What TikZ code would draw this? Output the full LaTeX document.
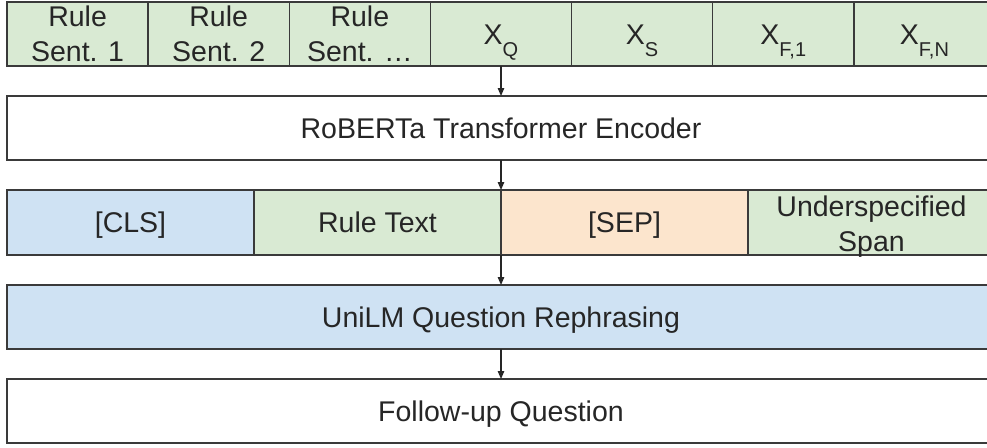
\documentclass[tikz,border=0pt]{standalone}
\usepackage{fontspec}
\setmainfont{Liberation Sans}
\usetikzlibrary{arrows.meta}
\definecolor{cellgreen}{HTML}{D9EAD3}
\definecolor{cellblue}{HTML}{CFE2F3}
\definecolor{cellorange}{HTML}{FCE5CD}
\definecolor{edge}{HTML}{3A3A3A}
\newcommand{\tok}[1]{X\raisebox{-12pt}{\fontsize{20}{20}\selectfont #1}}
\begin{document}
\begin{tikzpicture}[x=1pt,y=-1pt,
  cell/.style={draw=edge,line width=1.5pt,rectangle,inner sep=0pt,outer sep=0pt,
    align=center,font=\fontsize{28.5}{35}\selectfont,text=black!85},
  oneline/.style={text height=20pt,text depth=0pt},
  toprow/.style={cell,fill=cellgreen,minimum width=141.14pt,minimum height=64pt},
  midrow/.style={cell,minimum width=247pt,minimum height=65pt},
  wide/.style={cell,minimum width=988pt,minimum height=64pt,oneline},
  arr/.style={draw=black!85,line width=1.2pt,-{Triangle[length=8pt,width=6.5pt]}}]
\useasboundingbox (0,0) rectangle (987,447);
\clip (0,0) rectangle (987,447);

% input segments
\node[toprow] (r1) at (77.57,34) {Rule\\Sent. 1};
\node[toprow] (r2) at (218.71,34) {Rule\\Sent. 2};
\node[toprow] (r3) at (359.85,34) {Rule\\Sent. \dots};
\node[toprow,oneline] (xq) at (501,34) {\tok{Q}};
\node[toprow,oneline] (xs) at (642.14,34) {\tok{S}};
\node[toprow,oneline] (xf1) at (783.28,34) {\tok{F,1}};
\node[toprow,oneline] (xfn) at (924.42,34) {\tok{F,N}};

% encoder
\node[wide,fill=white] (enc) at (501,128) {RoBERTa Transformer Encoder};

% rephrasing input
\node[midrow,oneline,fill=cellblue] (cls) at (130.5,222.5) {[CLS]};
\node[midrow,oneline,fill=cellgreen] (rtext) at (377.5,222.5) {Rule Text};
\node[midrow,oneline,fill=cellorange] (sep) at (624.5,222.5) {[SEP]};
\node[midrow,fill=cellgreen] (span) at (871.5,222.5) {};
\node[align=center,font=\fontsize{28.5}{35}\selectfont,text=black!85,inner sep=0pt]
  (spantext) at ([yshift=-4pt]span.center) {Underspecified\\Span};

% decoder and output
\node[wide,fill=cellblue] (unilm) at (501,317) {UniLM Question Rephrasing};
\node[wide,fill=white] (follow) at (501,411) {Follow-up Question};

% connectors
\draw[arr] (xq.south) -- (enc.north);
\draw[arr] (enc.south) -- (enc.south |- sep.north);
\draw[arr] (sep.south west) -- (unilm.north);
\draw[arr] (unilm.south) -- (follow.north);
\end{tikzpicture}
\end{document}
